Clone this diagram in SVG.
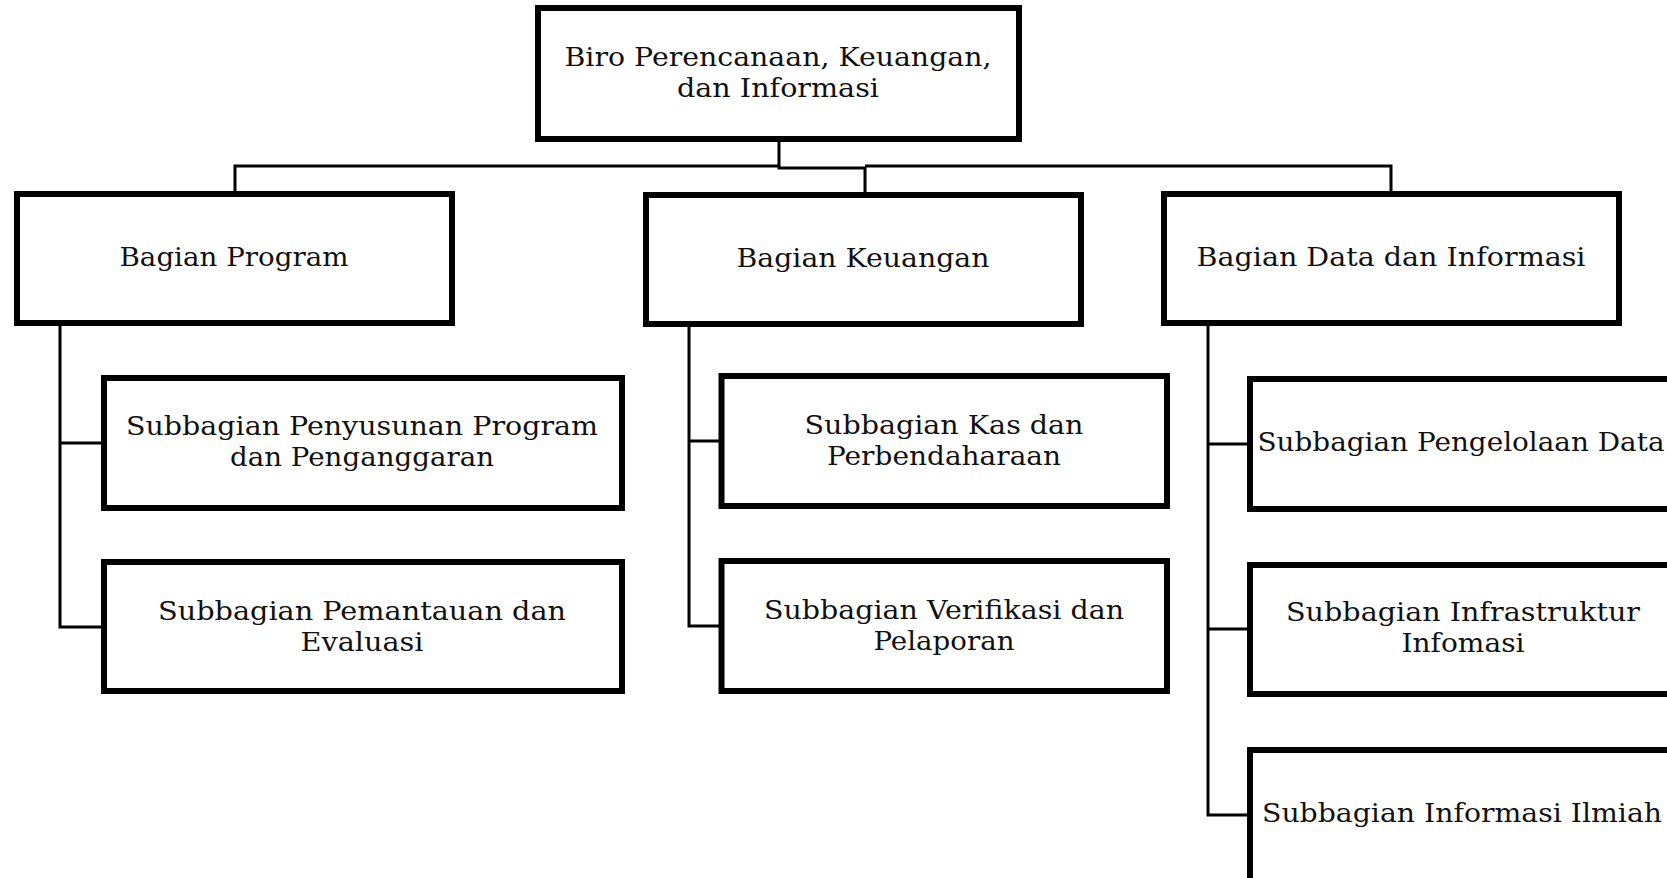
<svg xmlns="http://www.w3.org/2000/svg" width="1667" height="878" viewBox="0 0 1667 878">
<style>
.box{fill:#ffffff;stroke:#000000;stroke-width:6}
.con{fill:none;stroke:#000000;stroke-width:3}
text{font-family:"DejaVu Serif","Liberation Serif",serif;font-size:26px;fill:#111111;text-anchor:middle}
</style>
<rect x="0" y="0" width="1667" height="878" fill="#ffffff"/>
<g id="connectors">
<path class="con" d="M779,139 V168 H865 V195"/>
<path class="con" d="M235,194 V166 H779"/>
<path class="con" d="M865,166 H1391 V194"/>
<path class="con" d="M60,323 V627 H104 M60,443 H104"/>
<path class="con" d="M689,324 V626 H721 M689,441 H721"/>
<path class="con" d="M1208,323 V815 H1250 M1208,444 H1250 M1208,629 H1250"/>
</g>
<g id="biro">
<rect class="box" x="538" y="8" width="481" height="131"/>
<text x="778" y="66" textLength="427" lengthAdjust="spacingAndGlyphs">Biro Perencanaan, Keuangan,</text>
<text x="778" y="97" textLength="202" lengthAdjust="spacingAndGlyphs">dan Informasi</text>
</g>
<g id="bagian-program">
<rect class="box" x="17" y="194" width="435" height="129"/>
<text x="234" y="266" textLength="229" lengthAdjust="spacingAndGlyphs">Bagian Program</text>
</g>
<g id="bagian-keuangan">
<rect class="box" x="646" y="195" width="435" height="129"/>
<text x="863" y="267" textLength="253" lengthAdjust="spacingAndGlyphs">Bagian Keuangan</text>
</g>
<g id="bagian-data">
<rect class="box" x="1164" y="194" width="455" height="129"/>
<text x="1391" y="266" textLength="389" lengthAdjust="spacingAndGlyphs">Bagian Data dan Informasi</text>
</g>
<g id="sub-penyusunan">
<rect class="box" x="104" y="378" width="518" height="130"/>
<text x="362" y="435" textLength="472" lengthAdjust="spacingAndGlyphs">Subbagian Penyusunan Program</text>
<text x="362" y="466" textLength="264" lengthAdjust="spacingAndGlyphs">dan Penganggaran</text>
</g>
<g id="sub-pemantauan">
<rect class="box" x="104" y="562" width="518" height="129"/>
<text x="362" y="620" textLength="408" lengthAdjust="spacingAndGlyphs">Subbagian Pemantauan dan</text>
<text x="362" y="651" textLength="123" lengthAdjust="spacingAndGlyphs">Evaluasi</text>
</g>
<g id="sub-kas">
<rect class="box" x="721.5" y="376" width="445.5" height="130"/>
<text x="944" y="434" textLength="279" lengthAdjust="spacingAndGlyphs">Subbagian Kas dan</text>
<text x="944" y="465" textLength="234" lengthAdjust="spacingAndGlyphs">Perbendaharaan</text>
</g>
<g id="sub-verifikasi">
<rect class="box" x="721.5" y="561" width="445.5" height="130"/>
<text x="944" y="619" textLength="360" lengthAdjust="spacingAndGlyphs">Subbagian Verifikasi dan</text>
<text x="944" y="650" textLength="141" lengthAdjust="spacingAndGlyphs">Pelaporan</text>
</g>
<g id="sub-pengelolaan">
<rect class="box" x="1250" y="379" width="430" height="130"/>
<text x="1461" y="451" textLength="407" lengthAdjust="spacingAndGlyphs">Subbagian Pengelolaan Data</text>
</g>
<g id="sub-infrastruktur">
<rect class="box" x="1250" y="565" width="430" height="129"/>
<text x="1463" y="621" textLength="354" lengthAdjust="spacingAndGlyphs">Subbagian Infrastruktur</text>
<text x="1463" y="652" textLength="123" lengthAdjust="spacingAndGlyphs">Infomasi</text>
</g>
<g id="sub-ilmiah">
<rect class="box" x="1250" y="750" width="430" height="140"/>
<text x="1462" y="822" textLength="400" lengthAdjust="spacingAndGlyphs">Subbagian Informasi Ilmiah</text>
</g>
</svg>
